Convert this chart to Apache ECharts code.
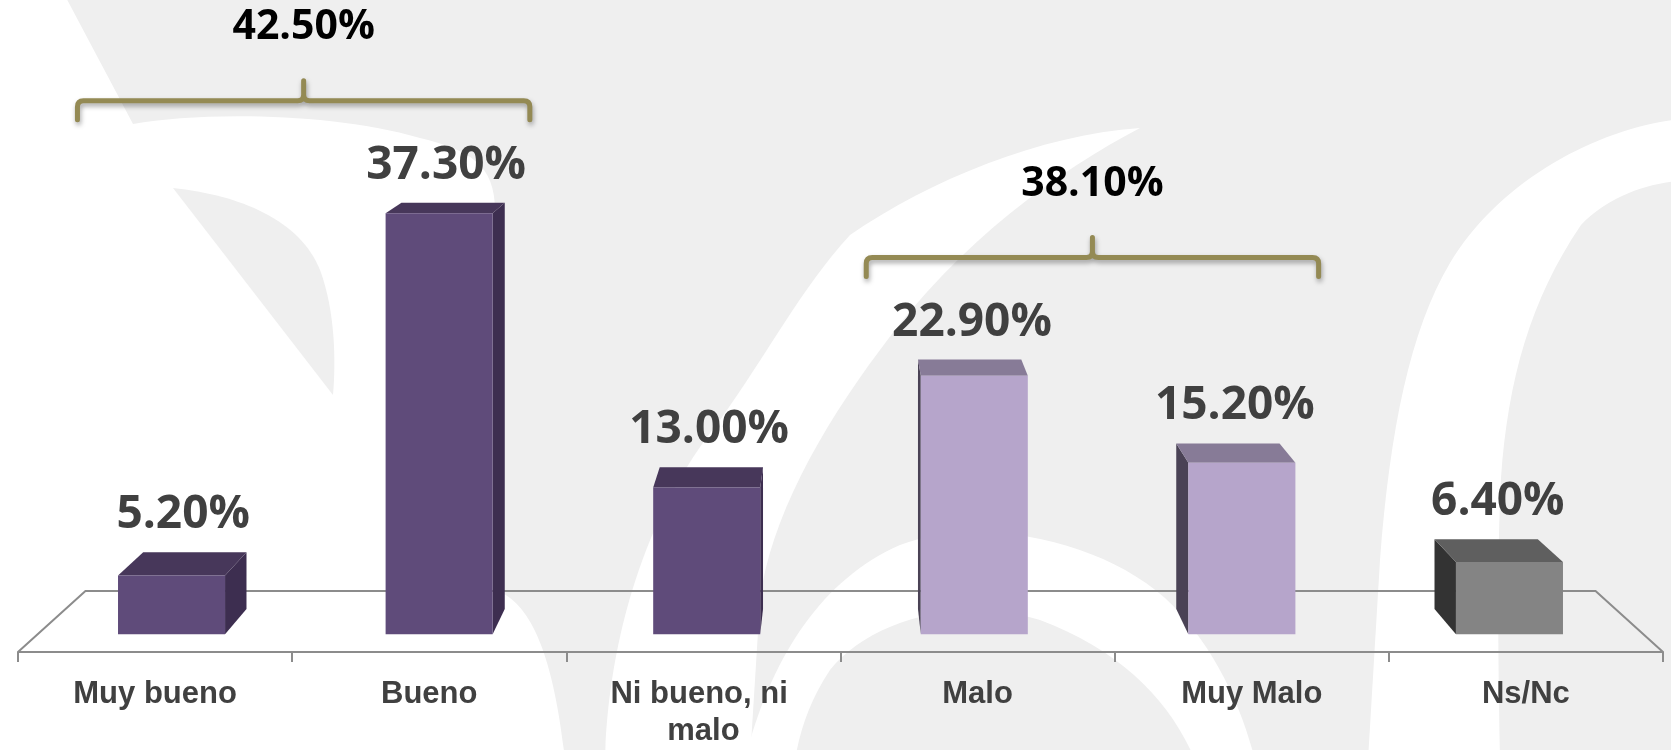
<!DOCTYPE html>
<html><head><meta charset="utf-8">
<script src="https://cdn.jsdelivr.net/npm/echarts@6/dist/echarts.min.js"></script>
<style>html,body{margin:0;padding:0;background:#efefef}#c{width:1671px;height:750px}</style>
</head><body><div id="c"></div>
<script>
// ---------- data ----------
const categories = ['Muy bueno', 'Bueno', 'Ni bueno, ni malo', 'Malo', 'Muy Malo', 'Ns/Nc'];
const values = [5.2, 37.3, 13.0, 22.9, 15.2, 6.4];
const groupFrom = [0, 3];
const groupTo = [1, 4];
const groupTotals = [42.5, 38.1];

// ---------- style ----------
const COLORS = {
  purple: {front: '#5f4b7a', top: '#47375a', side: '#3d2e50'},
  lilac:  {front: '#b6a5cb', top: '#877b97', side: '#4a4255'},
  gray:   {front: '#848484', top: '#5f5f5f', side: '#333333'}
};
const BAR_STYLE = ['purple', 'purple', 'purple', 'lilac', 'lilac', 'gray'];
const VP_DY = 165;
const T_FRONT = 0.024, T_BACK = 0.058, T_FLOOR = 0.082;
const BAR_RATIO = 0.40;
const LABEL_GAP = 37, BRACKET_GAP = 65, GROUP_LABEL_GAP = 73;
const BR_HALF = 0.825, BR_DX = -11;
const LABEL_FONT = '"Open Sans", Lato, sans-serif';

function vpOf(cs) { return [cs.x + cs.width / 2, cs.y - VP_DY]; }
function proj(p, t, vp) { return [p[0] + t * (vp[0] - p[0]), p[1] + t * (vp[1] - p[1])]; }

function barGeom(api, i, v, vp) {
  const c0 = api.coord([i, 0]);
  const c1 = api.coord([i, v]);
  const hw = api.size([1, 0])[0] * BAR_RATIO / 2;
  const xl = c0[0] - hw, xr = c0[0] + hw;
  return {
    c0: c0,
    FLb: proj([xl, c0[1]], T_FRONT, vp), FRb: proj([xr, c0[1]], T_FRONT, vp),
    FLt: proj([xl, c1[1]], T_FRONT, vp), FRt: proj([xr, c1[1]], T_FRONT, vp),
    BLb: proj([xl, c0[1]], T_BACK, vp), BRb: proj([xr, c0[1]], T_BACK, vp),
    BLt: proj([xl, c1[1]], T_BACK, vp), BRt: proj([xr, c1[1]], T_BACK, vp)
  };
}

function renderBar(params, api) {
  const i = params.dataIndex;
  const vp = vpOf(params.coordSys);
  const v = api.value(1);
  const g = barGeom(api, i, v, vp);
  const col = COLORS[BAR_STYLE[i]];
  const side = g.c0[0] < vp[0] ? [g.FRb, g.BRb, g.BRt, g.FRt] : [g.FLb, g.BLb, g.BLt, g.FLt];
  const lx = (g.FLt[0] + g.FRt[0] + g.BLt[0] + g.BRt[0]) / 4;
  const ly = g.BLt[1] - LABEL_GAP;
  return {
    type: 'group',
    children: [
      {type: 'polygon', shape: {points: side}, style: {fill: col.side}},
      {type: 'polygon', shape: {points: [g.FLt, g.FRt, g.BRt, g.BLt]}, style: {fill: col.top}},
      {type: 'polygon', shape: {points: [g.FLb, g.FRb, g.FRt, g.FLt]}, style: {fill: col.front}},
      {type: 'text', style: {text: v.toFixed(2) + '%', x: lx, y: ly, align: 'center', verticalAlign: 'middle',
        fontSize: 46, fontWeight: 'bold', fontFamily: LABEL_FONT, fill: '#404040'}}
    ]
  };
}

function renderFloor(params, api) {
  const cs = params.coordSys;
  const vp = vpOf(cs);
  const y0 = api.coord([0, 0])[1];
  const L = [cs.x, y0], R = [cs.x + cs.width, y0];
  return {
    type: 'polyline',
    shape: {points: [L, proj(L, T_FLOOR, vp), proj(R, T_FLOOR, vp), R]},
    style: {stroke: '#8c8c8c', lineWidth: 2, fill: null}
  };
}

function renderBracket(params, api) {
  const k = params.dataIndex;
  const vp = vpOf(params.coordSys);
  const f = groupFrom[k], t = groupTo[k];
  const bw = api.size([1, 0])[0];
  let sumX = 0, n = 0, mi = f;
  for (let j = f; j <= t; j++) {
    const g = barGeom(api, j, values[j], vp);
    sumX += (g.FLt[0] + g.FRt[0] + g.BLt[0] + g.BRt[0]) / 4; n++;
    if (values[j] > values[mi]) mi = j;
  }
  const xc = sumX / n + BR_DX;
  const half = BR_HALF * bw;
  const xl = xc - half, xr = xc + half;
  const gm = barGeom(api, mi, values[mi], vp);
  const yb = gm.BLt[1] - LABEL_GAP - BRACKET_GAP;
  const r = 6;
  const d = 'M' + xl + ',' + (yb + 19) + ' L' + xl + ',' + (yb + r) + ' Q' + xl + ',' + yb + ' ' + (xl + r) + ',' + yb +
            ' L' + (xc - r) + ',' + yb + ' Q' + xc + ',' + yb + ' ' + xc + ',' + (yb - r) + ' L' + xc + ',' + (yb - 20) +
            ' M' + xc + ',' + (yb - r) + ' Q' + xc + ',' + yb + ' ' + (xc + r) + ',' + yb +
            ' L' + (xr - r) + ',' + yb + ' Q' + xr + ',' + yb + ' ' + xr + ',' + (yb + r) + ' L' + xr + ',' + (yb + 19);
  return {
    type: 'group',
    children: [
      {type: 'path', shape: {pathData: d}, style: {stroke: '#948a54', lineWidth: 5, fill: null, lineCap: 'round',
        shadowColor: 'rgba(0,0,0,0.35)', shadowBlur: 5, shadowOffsetX: 1, shadowOffsetY: 3}},
      {type: 'text', style: {text: groupTotals[k].toFixed(2) + '%', x: xc, y: yb - GROUP_LABEL_GAP, align: 'center',
        verticalAlign: 'middle', fontSize: 41, fontWeight: 'bold', fontFamily: LABEL_FONT, fill: '#000000'}}
    ]
  };
}

// decorative background watermark (pixel paths, not data)
const bgShapes = [
  {d: 'M-10,-10 L62,-10 L133,124 C200,112 330,112 420,138 C470,150 495,165 495,210 L495,590 C525,600 552,640 565,760 L-10,760 Z', fill: '#ffffff'},
  {d: 'M173,188 C240,195 300,220 320,270 C335,310 336,360 333,395 Z', fill: '#efefef'},
  {d: 'M605,760 C608,650 640,520 720,420 C770,350 800,290 850,235 C930,180 1040,135 1140,128 C1060,170 960,240 880,350 C820,430 770,520 760,600 L750,760 Z', fill: '#ffffff'},
  {d: 'M745,760 C770,660 820,580 900,545 C980,515 1100,540 1165,598 C1210,640 1240,700 1255,760 L1195,760 C1170,700 1120,650 1040,620 C960,595 870,620 830,670 C810,700 800,730 795,760 Z', fill: '#ffffff'},
  {d: 'M1690,118 C1600,125 1500,180 1450,263 C1410,330 1390,430 1380,560 L1368,760 L1500,760 C1498,650 1497,560 1501,478 C1508,380 1530,300 1581,225 C1610,195 1650,182 1690,180 Z', fill: '#ffffff'}
];
function renderBg() {
  return {type: 'group', children: bgShapes.map(s => ({type: 'path', shape: {pathData: s.d}, style: {fill: s.fill}}))};
}

const chart = echarts.init(document.getElementById('c'), null, {renderer: 'canvas'});
chart.setOption({
  backgroundColor: '#efefef',
  animation: false,
  grid: {left: 18, right: 8, top: 74, bottom: 98, containLabel: false},
  xAxis: {
    type: 'category', data: categories, boundaryGap: true, z: 2,
    axisLine: {show: true, lineStyle: {color: '#8c8c8c', width: 2}},
    axisTick: {show: true, length: 10, lineStyle: {color: '#8c8c8c', width: 2}},
    axisLabel: {interval: 0, margin: 24, color: '#404040', fontFamily: 'Liberation Sans', fontWeight: 'bold',
      fontSize: 31, lineHeight: 37, width: 210, overflow: 'break'},
    splitLine: {show: false}
  },
  yAxis: {type: 'value', min: 0, max: 50, show: false, splitLine: {show: false}},
  series: [
    {type: 'custom', z: -5, renderItem: renderBg, data: [[0, 0]], silent: true},
    {type: 'custom', z: 1, renderItem: renderFloor, data: [[0, 0]], silent: true},
    {type: 'custom', z: 3, renderItem: renderBar, data: values.map((v, i) => [i, v]), encode: {x: 0, y: 1}},
    {type: 'custom', z: 4, renderItem: renderBracket, data: groupTotals.map((g, k) => [groupFrom[k], g]), encode: {x: 0, y: 1}}
  ]
});
</script></body></html>
